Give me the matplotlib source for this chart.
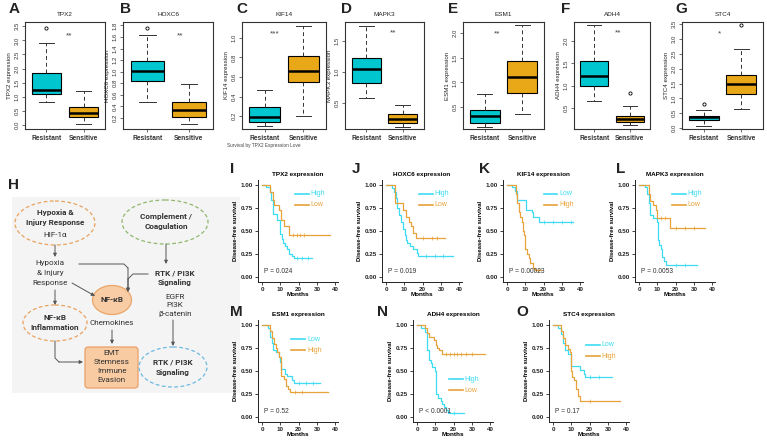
import numpy as np
import matplotlib
matplotlib.use('Agg')
import matplotlib.pyplot as plt
from matplotlib.patches import Ellipse, FancyBboxPatch, Rectangle

plt.rcParams['font.family'] = ['Liberation Sans', 'DejaVu Sans']

W, H = 767, 442

# ---- box plot data: [whislo, q1, median, q3, whishi] ----
box_genes = ['TPX2', 'HOXC6', 'KIF14', 'MAPK3', 'ESM1', 'ADH4', 'STC4']
group_labels = ['Resistant', 'Sensitive']
tpx2_res = [0.82, 1.11, 1.25, 1.86, 2.91]
tpx2_sen = [0.03, 0.29, 0.42, 0.63, 1.20]
hoxc6_res = [0.48, 0.84, 1.01, 1.18, 1.63]
hoxc6_sen = [0.09, 0.21, 0.34, 0.48, 0.79]
kif14_res = [0.097, 0.145, 0.19, 0.29, 0.465]
kif14_sen = [0.20, 0.55, 0.665, 0.81, 1.12]
mapk3_res = [0.58, 0.83, 1.05, 1.22, 1.75]
mapk3_sen = [0.12, 0.18, 0.24, 0.325, 0.47]
esm1_res = [0.11, 0.19, 0.33, 0.45, 0.76]
esm1_sen = [0.36, 0.78, 1.10, 1.43, 2.15]
adh4_res = [0.65, 0.99, 1.23, 1.55, 2.36]
adh4_sen = [0.11, 0.18, 0.25, 0.33, 0.54]
stc4_res = [0.07, 0.27, 0.36, 0.42, 0.62]
stc4_sen = [0.65, 1.16, 1.50, 1.79, 2.68]
res_outliers = [[3.42], [1.76], [], [], [], [], [0.82]]
sen_outliers = [[], [], [], [], [], [0.84], [3.47]]
signif = ['**', '**', '***', '**', '**', '**', '*']
box_yticks = [
    [0.0, 0.5, 1.0, 1.5, 2.0, 2.5, 3.0, 3.5],
    [0.2, 0.4, 0.6, 0.8, 1.0, 1.2, 1.4, 1.6, 1.8],
    [0.2, 0.4, 0.6, 0.8, 1.0],
    [0.5, 1.0, 1.5],
    [0.5, 1.0, 1.5, 2.0],
    [0.5, 1.0, 1.5, 2.0],
    [0.0, 0.5, 1.0, 1.5, 2.0, 2.5, 3.0, 3.5],
]

# ---- Kaplan-Meier step data (time, survival after step) ----
I_high_t = [0, 2.4, 4.2, 5.1, 6.0, 8.2, 9.6, 10.0, 10.7, 11.3, 12.4, 13.6, 14.5, 16.4, 17.3, 27.3]
I_high_s = [1.0, 0.97, 0.92, 0.83, 0.68, 0.62, 0.57, 0.47, 0.41, 0.37, 0.33, 0.30, 0.25, 0.23, 0.21, 0.21]
I_low_t = [0, 4.5, 5.8, 6.7, 9.5, 10.4, 11.8, 15.0, 37.0]
I_low_s = [1.0, 0.92, 0.83, 0.78, 0.72, 0.62, 0.55, 0.45, 0.45]
J_high_t = [0, 3.1, 4.4, 5.5, 6.2, 7.3, 8.4, 9.5, 10.2, 10.7, 11.6, 13.0, 14.9, 16.7, 17.6, 36.4]
J_high_s = [1.0, 0.96, 0.92, 0.85, 0.75, 0.67, 0.60, 0.52, 0.45, 0.40, 0.37, 0.33, 0.30, 0.26, 0.23, 0.23]
J_low_t = [0, 4.9, 9.5, 10.7, 12.5, 13.6, 14.9, 16.2, 32.2]
J_low_s = [1.0, 0.80, 0.73, 0.65, 0.60, 0.55, 0.48, 0.42, 0.42]
K_low_t = [0, 2.9, 4.1, 5.4, 10.4, 13.5, 14.0, 17.2, 35.9]
K_low_s = [1.0, 0.97, 0.93, 0.83, 0.73, 0.70, 0.65, 0.60, 0.60]
K_high_t = [0, 4.7, 5.4, 6.3, 7.2, 8.1, 8.8, 9.5, 10.0, 10.9, 11.8, 12.7, 14.0, 15.2, 18.5]
K_high_s = [1.0, 0.90, 0.80, 0.70, 0.65, 0.60, 0.50, 0.45, 0.30, 0.25, 0.20, 0.15, 0.10, 0.08, 0.08]
L_high_t = [0, 3.0, 4.3, 5.3, 6.0, 7.8, 9.8, 10.1, 11.0, 11.9, 12.8, 13.7, 14.9, 31.5]
L_high_s = [1.0, 0.97, 0.90, 0.80, 0.67, 0.64, 0.60, 0.40, 0.35, 0.30, 0.22, 0.17, 0.13, 0.13]
L_low_t = [0, 5.3, 6.2, 7.8, 9.2, 9.8, 16.7, 36.0]
L_low_s = [1.0, 0.90, 0.82, 0.78, 0.72, 0.64, 0.53, 0.53]
M_low_t = [0, 3.0, 4.3, 5.2, 5.8, 7.6, 9.0, 9.7, 10.3, 12.6, 13.9, 16.6, 17.5, 31.9]
M_low_s = [1.0, 0.96, 0.87, 0.80, 0.72, 0.70, 0.65, 0.60, 0.52, 0.47, 0.44, 0.40, 0.37, 0.37]
M_high_t = [0, 4.3, 5.4, 6.3, 7.6, 8.1, 9.4, 10.3, 12.1, 13.0, 14.4, 15.1, 36.0]
M_high_s = [1.0, 0.93, 0.85, 0.79, 0.75, 0.70, 0.65, 0.44, 0.41, 0.33, 0.30, 0.27, 0.27]
N_high_t = [0, 2.2, 4.2, 5.2, 5.7, 6.5, 7.6, 8.3, 9.8, 10.5, 11.6, 12.9, 13.8, 14.7, 15.7, 17.1, 25.8]
N_high_s = [1.0, 0.96, 0.92, 0.82, 0.72, 0.62, 0.58, 0.54, 0.50, 0.25, 0.20, 0.17, 0.14, 0.11, 0.08, 0.04, 0.04]
N_low_t = [0, 4.6, 5.5, 6.5, 9.2, 10.1, 11.0, 12.0, 13.5, 36.9]
N_low_s = [1.0, 0.96, 0.91, 0.87, 0.83, 0.78, 0.75, 0.73, 0.68, 0.68]
O_low_t = [0, 2.7, 4.5, 5.5, 6.4, 8.2, 10.0, 14.5, 16.9, 17.6, 32.0]
O_low_s = [1.0, 0.96, 0.90, 0.80, 0.72, 0.68, 0.55, 0.51, 0.47, 0.43, 0.43]
O_high_t = [0, 4.5, 5.5, 6.4, 8.2, 9.1, 10.0, 10.5, 11.5, 12.7, 13.6, 14.5, 36.4]
O_high_s = [1.0, 0.93, 0.85, 0.78, 0.74, 0.70, 0.50, 0.43, 0.40, 0.30, 0.23, 0.17, 0.17]
km_titles = ['TPX2 expression', 'HOXC6 expression', 'KIF14 expression', 'MAPK3 expression',
             'ESM1 expression', 'ADH4 expression', 'STC4 expression']
km_pvals = ['P = 0.024', 'P = 0.019', 'P = 0.00023', 'P = 0.0053', 'P = 0.52', 'P < 0.0001', 'P = 0.17']
km_legends = [('High', 'Low'), ('High', 'Low'), ('Low', 'High'), ('High', 'Low'),
              ('Low', 'High'), ('High', 'Low'), ('Low', 'High')]
km_cyan = [(I_high_t, I_high_s), (J_high_t, J_high_s), (K_low_t, K_low_s), (L_high_t, L_high_s),
           (M_low_t, M_low_s), (N_high_t, N_high_s), (O_low_t, O_low_s)]
km_orange = [(I_low_t, I_low_s), (J_low_t, J_low_s), (K_high_t, K_high_s), (L_low_t, L_low_s),
             (M_high_t, M_high_s), (N_low_t, N_low_s), (O_high_t, O_high_s)]
cens_cyan = [[19, 22, 25], [22, 27, 31], [20, 25, 30, 35], [20, 25], [20, 24, 28], [20], [20, 25]]
cens_orange = [[17, 19, 21, 23], [20, 25, 28], [17], [12, 14, 20, 25, 30], [18, 22],
               [16, 18, 20, 22, 24, 27, 30], [20]]

BOX_CYAN = '#00c6cf'
BOX_ORANGE = '#e8a818'
KM_CYAN = '#3ddcf2'
KM_ORANGE = '#e8a23a'


def pbox(x0, y0, x1, y1):
    return [x0 / W, 1 - y1 / H, (x1 - x0) / W, (y1 - y0) / H]


fig = plt.figure(figsize=(W / 100, H / 100), dpi=100)

# %% pathway diagram H (drawn first so neighbouring labels sit on top)
axh = fig.add_axes(pbox(0, 160, 245, 442))
axh.set_xlim(0, 245)
axh.set_ylim(442, 160)
axh.axis('off')
axh.patch.set_visible(False)
fig.text(8 / W, 1 - 185 / H, 'H', fontsize=11, fontweight='bold', va='center', ha='left',
         color='#222222')
axh.add_patch(Rectangle((12, 197), 228, 196, facecolor='#f4f4f4', edgecolor='none', zorder=0))

TXT = '#333333'
DF = ['Roboto', 'DejaVu Sans']


def ell(cx, cy, w, h, col, fill='none', ls=(0, (3, 2))):
    axh.add_patch(Ellipse((cx, cy), w, h, facecolor=fill, edgecolor=col, linewidth=0.9,
                          linestyle=ls, zorder=2))


def txt(x, y, s, bold=False, size=5.9):
    axh.text(x, y, s, ha='center', va='center', fontsize=size, color=TXT,
             fontweight='bold' if bold else 'normal', family=DF, zorder=4)


def arrow(pts):
    xs = [p[0] for p in pts]
    ys = [p[1] for p in pts]
    if len(pts) > 2:
        axh.plot(xs[:-1], ys[:-1], color='#555555', linewidth=0.7, zorder=3)
    axh.annotate('', xy=pts[-1], xytext=pts[-2],
                 arrowprops=dict(arrowstyle='-|>', color='#555555', lw=0.7,
                                 mutation_scale=5, shrinkA=0, shrinkB=0), zorder=3)


ell(55, 223, 80, 44, '#e9a25e')
txt(55, 212, 'Hypoxia &', bold=True)
txt(55, 222, 'Injury Response', bold=True)
txt(55, 235, 'HIF-1α')

ell(165, 222, 86, 44, '#8fb86e')
txt(166, 216, 'Complement /', bold=True)
txt(166, 226, 'Coagulation', bold=True)

txt(50, 263, 'Hypoxia')
txt(50, 273, '& Injury')
txt(50, 283, 'Response')

txt(175, 273, 'RTK / PI3K', bold=True)
txt(175, 282, 'Signaling', bold=True)
txt(175, 297, 'EGFR')
txt(175, 305, 'PI3K')
txt(175, 314, 'β-catenin')

ell(112, 300, 39, 29, '#e9a56a', fill='#f8cda6', ls='-')
txt(112, 300, 'NF-κB', bold=True)
txt(112, 323, 'Chemokines')

ell(55, 323, 64, 36, '#e9a25e')
txt(55, 317, 'NF-κB', bold=True)
txt(55, 327, 'Inflammation', bold=True)

axh.add_patch(FancyBboxPatch((85, 347), 53, 41, boxstyle='round,pad=0,rounding_size=3',
                             facecolor='#f8cba2', edgecolor='#e9a06a', linewidth=0.9, zorder=2))
txt(111.5, 353, 'EMT')
txt(111.5, 362, 'Stemness')
txt(111.5, 371, 'Immune')
txt(111.5, 380, 'Evasion')

ell(173, 367, 68, 40, '#6cb8e2')
txt(173, 362, 'RTK / PI3K', bold=True)
txt(173, 372, 'Signaling', bold=True)

arrow([(55, 245), (55, 257)])
arrow([(166, 244), (166, 264)])
arrow([(79, 264), (124, 264), (128, 268), (128, 292)])
arrow([(148, 274), (133, 274), (128, 279), (128, 292)])
arrow([(72, 283), (95, 296)])
arrow([(55, 290), (55, 305)])
arrow([(112, 330), (112, 344)])
arrow([(55, 341), (55, 358), (59, 362), (83, 362)])
arrow([(173, 320), (173, 346)])

# %% box plots A-G
box_px = [(25, 105), (123, 213), (242, 326), (345, 424), (463, 544), (574, 650), (682, 763)]
box_ylim = [(-0.14, 3.65), (0.01, 1.86), (0.07, 1.16), (0.08, 1.81), (0.06, 2.22), (0.03, 2.43), (-0.03, 3.58)]
sig_pos = [(1.6, 3.17), (1.8, 1.62), (1.27, 1.04), (1.73, 1.64), (1.32, 1.98), (1.66, 2.18), (1.41, 3.18)]
res_all = [tpx2_res, hoxc6_res, kif14_res, mapk3_res, esm1_res, adh4_res, stc4_res]
sen_all = [tpx2_sen, hoxc6_sen, kif14_sen, mapk3_sen, esm1_sen, adh4_sen, stc4_sen]
letters_top = 'ABCDEFG'
letter_x = [9, 120, 236, 341, 448, 561, 675]

for i, gene in enumerate(box_genes):
    x0, x1 = box_px[i]
    ax = fig.add_axes(pbox(x0, 22, x1, 129))
    stats = []
    for vals, out in [(res_all[i], res_outliers[i]), (sen_all[i], sen_outliers[i])]:
        stats.append(dict(whislo=vals[0], q1=vals[1], med=vals[2], q3=vals[3],
                          whishi=vals[4], fliers=out))
    b = ax.bxp(stats, positions=[1, 2], widths=0.8, patch_artist=True,
               boxprops=dict(linewidth=0.8, edgecolor='black'),
               medianprops=dict(color='black', linewidth=1.8),
               whiskerprops=dict(linestyle=(0, (4, 3)), linewidth=0.7, color='#333333'),
               capprops=dict(linewidth=0.7, color='#333333'),
               flierprops=dict(marker='o', markersize=2.3, markerfacecolor='none',
                               markeredgecolor='black', markeredgewidth=0.6))
    b['boxes'][0].set_facecolor(BOX_CYAN)
    b['boxes'][1].set_facecolor(BOX_ORANGE)
    for c in b['caps']:
        xd = c.get_xdata()
        mid = (xd[0] + xd[1]) / 2
        c.set_xdata([mid - 0.2, mid + 0.2])
    ax.set_xlim(0.42, 2.58)
    ax.set_ylim(*box_ylim[i])
    ax.set_xticks([1, 2])
    ax.set_xticklabels(group_labels, fontsize=4.8, color='#333333', fontweight='bold')
    ax.set_yticks(box_yticks[i])
    ax.set_yticklabels(['%.1f' % v for v in box_yticks[i]], rotation=90, va='center',
                       fontsize=4.3, color='#333333')
    ax.tick_params(direction='out', length=2.5, width=0.5, pad=1.5, colors='#333333')
    for s in ax.spines.values():
        s.set_linewidth(0.8)
        s.set_color('#333333')
    ax.set_title(gene, fontsize=4.6, pad=4, color='#222222')
    ax.set_ylabel(gene + ' expression', fontsize=4.4, labelpad=1.5, color='#222222')
    ax.text(sig_pos[i][0], sig_pos[i][1], signif[i], fontsize=6, ha='center', va='center',
            color='#444444')
    fig.text(letter_x[i] / W, 1 - 9 / H, letters_top[i], fontsize=11, fontweight='bold',
             va='center', ha='left', color='#222222')

fig.text(227 / W, 1 - 146 / H, 'Survival by TPX2 Expression Love', fontsize=3.4,
         color='#444444', va='center', ha='left')

# %% Kaplan-Meier panels I-O
km_px = [(258, 180), (382, 180), (503, 180), (635, 180), (258, 320), (413, 320), (549, 320)]
km_letters = 'IJKLMNO'
km_letter_pos = [(230, 169), (352, 169), (479, 169), (616, 169), (230, 312), (377, 312), (516, 312)]
leg_pos = [(18, 0.90, 0.78), (18, 0.90, 0.78), (20, 0.90, 0.78), (18, 0.90, 0.78),
           (16, 0.84, 0.72), (17.5, 0.41, 0.29), (18, 0.78, 0.66)]

for i in range(7):
    lx, ty = km_px[i]
    ax = fig.add_axes(pbox(lx, ty, lx + 80, ty + 102))
    for (t, s), col, cens in [(km_cyan[i], KM_CYAN, cens_cyan[i]),
                              (km_orange[i], KM_ORANGE, cens_orange[i])]:
        ax.step(t, s, where='post', color=col, linewidth=0.9)
        cy = [s[np.searchsorted(t, c, side='right') - 1] for c in cens]
        ax.plot(cens, cy, linestyle='none', marker='|', markersize=2.5,
                markeredgewidth=0.5, color=col)
    ax.set_xlim(-2.2, 41.5)
    ax.set_ylim(-0.055, 1.05)
    ax.set_xticks([0, 10, 20, 30, 40])
    ax.set_yticks([0, 0.25, 0.5, 0.75, 1.0])
    ax.set_yticklabels(['0.00', '0.25', '0.50', '0.75', '1.00'])
    ax.tick_params(direction='out', length=2, width=0.6, pad=1.5, labelsize=4.5,
                   colors='#222222')
    for lab in ax.get_xticklabels() + ax.get_yticklabels():
        lab.set_fontweight('bold')
    for side in ['top', 'right']:
        ax.spines[side].set_visible(False)
    for side in ['left', 'bottom']:
        ax.spines[side].set_linewidth(0.7)
        ax.spines[side].set_color('#222222')
    ax.set_xlabel('Months', fontsize=4.6, fontweight='bold', labelpad=0)
    ax.set_ylabel('Disease-free survival', fontsize=4.3, fontweight='bold', labelpad=2)
    ax.set_title(km_titles[i], fontsize=4.6, fontweight='bold', pad=3)
    ax.text(1, 0.02, km_pvals[i], fontsize=4.8, color='#333333', va='bottom')
    x_leg, y1, y2 = leg_pos[i]
    ax.plot([x_leg, x_leg + 7.5], [y1, y1], color=KM_CYAN, linewidth=1.2)
    ax.plot([x_leg, x_leg + 7.5], [y2, y2], color=KM_ORANGE, linewidth=1.2)
    ax.text(x_leg + 8.5, y1, km_legends[i][0], color=KM_CYAN, fontsize=5, va='center')
    ax.text(x_leg + 8.5, y2, km_legends[i][1], color=KM_ORANGE, fontsize=5, va='center')
    fig.text(km_letter_pos[i][0] / W, 1 - km_letter_pos[i][1] / H, km_letters[i],
             fontsize=11, fontweight='bold', va='center', ha='left', color='#222222')

fig.savefig('out.png', dpi=100)
